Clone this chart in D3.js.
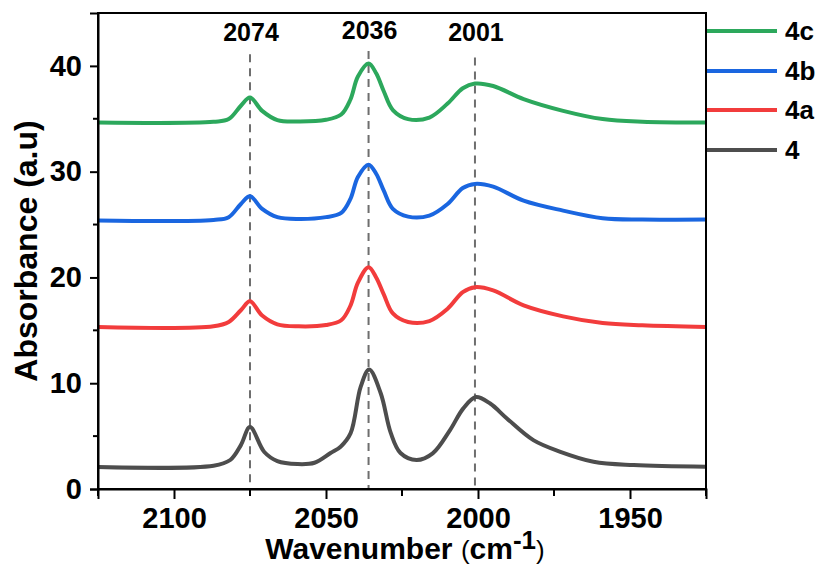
<!DOCTYPE html>
<html>
<head>
<meta charset="utf-8">
<script src="https://cdn.jsdelivr.net/npm/d3@7"></script>
<style>
  body { margin: 0; background: #fff; }
  text { font-family: "Liberation Sans", Arial, sans-serif; font-weight: bold; fill: #000; }
</style>
</head>
<body>
<div id="chart"></div>
<script>
// wavenumber grids (cm-1)
var wnABC = [2125, 2087, 2082, 2078, 2075, 2071, 2066, 2059, 2050, 2045, 2042, 2039.5, 2036, 2033.5, 2031, 2028, 2023, 2016, 2010, 2005, 2001, 1995, 1985, 1972, 1959, 1946, 1925];
var wn4 = [2125, 2087, 2081.5, 2078, 2075, 2070.3, 2066, 2059.4, 2053.8, 2048.5, 2045.2, 2041.9, 2038.6, 2035.8, 2032, 2028.7, 2025.5, 2020.2, 2014.9, 2009.2, 2004.9, 2000.7, 1996, 1990.5, 1981.8, 1972.9, 1962, 1948.8, 1925];

// absorbance values
var abs4c = [34.65, 34.72, 34.97, 36.23, 37.0, 35.75, 34.88, 34.75, 34.9, 35.4, 36.8, 39.0, 40.22, 39.3, 37.6, 35.82, 34.97, 35.12, 36.44, 37.89, 38.33, 38.1, 36.86, 35.75, 34.97, 34.72, 34.65];
var abs4b = [25.38, 25.44, 25.7, 26.95, 27.67, 26.48, 25.7, 25.53, 25.7, 26.1, 27.4, 29.5, 30.66, 29.8, 28.2, 26.48, 25.75, 25.85, 26.95, 28.46, 28.84, 28.58, 27.26, 26.32, 25.6, 25.47, 25.47];
var abs4a = [15.31, 15.38, 15.79, 16.9, 17.74, 16.4, 15.57, 15.38, 15.5, 15.95, 17.3, 19.5, 20.97, 20.0, 18.4, 16.6, 15.79, 15.88, 17.04, 18.62, 19.08, 18.77, 17.36, 16.32, 15.69, 15.47, 15.31];
var abs4 = [2.08, 2.2, 2.74, 4.15, 5.85, 3.5, 2.64, 2.36, 2.48, 3.4, 4.0, 5.28, 9.65, 11.29, 9.05, 5.3, 3.4, 2.74, 3.37, 5.57, 7.6, 8.7, 8.08, 6.67, 4.62, 3.52, 2.58, 2.26, 2.1];

var seriesNames = ["4c", "4b", "4a", "4"];
var seriesColors = ["#2ca85c", "#1a66e0", "#f23c3c", "#4d4d4d"];

var peakPos = [2075, 2036, 2001];
var peakLabels = ["2074", "2036", "2001"];

var xMajor = [2100, 2050, 2000, 1950];
var xMinor = [2125, 2075, 2025, 1975, 1925];
var yMajor = [0, 10, 20, 30, 40];
var yMinor = [5, 15, 25, 35];

var W = 821, H = 566;
var margin = {left: 98, top: 13, right: 115, bottom: 77};
var pw = W - margin.left - margin.right;
var ph = H - margin.top - margin.bottom;

var svg = d3.select("#chart").append("svg")
  .attr("width", W)
  .attr("height", H);

var x = d3.scaleLinear().domain([2125, 1925]).range([margin.left, margin.left + pw]);
var y = d3.scaleLinear().domain([0, 45]).range([margin.top + ph, margin.top]);

var series = [
  {name: seriesNames[0], color: seriesColors[0], wn: wnABC, v: abs4c},
  {name: seriesNames[1], color: seriesColors[1], wn: wnABC, v: abs4b},
  {name: seriesNames[2], color: seriesColors[2], wn: wnABC, v: abs4a},
  {name: seriesNames[3], color: seriesColors[3], wn: wn4, v: abs4}
];

// dashed peak markers
var markTop = [41.1, 41.4, 40.8];
svg.append("g").selectAll("line")
  .data(peakPos)
  .enter().append("line")
  .attr("x1", function(d) { return x(d); })
  .attr("x2", function(d) { return x(d); })
  .attr("y1", function(d, i) { return y(markTop[i]); })
  .attr("y2", y(0))
  .attr("stroke", "#6e6e6e")
  .attr("stroke-width", 2)
  .attr("stroke-dasharray", "8,6");

svg.append("g").selectAll("text")
  .data(peakLabels)
  .enter().append("text")
  .attr("x", function(d, i) { return x(peakPos[i]) + 1; })
  .attr("y", function(d, i) { return i == 1 ? 39 : 41; })
  .attr("text-anchor", "middle")
  .style("font-size", "25px")
  .text(function(d) { return d; });

// curves
var line = d3.line()
  .x(function(d) { return x(d[0]); })
  .y(function(d) { return y(d[1]); })
  .curve(d3.curveCatmullRom.alpha(0.5));

svg.append("g").selectAll("path")
  .data(series.slice().reverse())
  .enter().append("path")
  .attr("d", function(s) { return line(d3.zip(s.wn, s.v)); })
  .attr("fill", "none")
  .attr("stroke", function(s) { return s.color; })
  .attr("stroke-width", 4)
  .attr("stroke-linejoin", "round");

// frame
svg.append("rect")
  .attr("x", margin.left).attr("y", margin.top)
  .attr("width", pw).attr("height", ph)
  .attr("fill", "none").attr("stroke", "#000").attr("stroke-width", 2);

// x axis
var xAxis = svg.append("g").attr("transform", "translate(0," + (margin.top + ph) + ")");
xAxis.call(d3.axisBottom(x).tickValues(xMajor).tickSize(10).tickPadding(8).tickFormat(d3.format("d")));
xAxis.append("g").selectAll("line").data(xMinor).enter().append("line")
  .attr("x1", function(d) { return x(d); }).attr("x2", function(d) { return x(d); })
  .attr("y1", 0).attr("y2", 7).attr("stroke", "#000").attr("stroke-width", 2);

// y axis
var yAxis = svg.append("g").attr("transform", "translate(" + margin.left + ",0)");
yAxis.call(d3.axisLeft(y).tickValues(yMajor).tickSize(8).tickPadding(8));
yAxis.append("g").selectAll("line").data(yMinor).enter().append("line")
  .attr("x1", 0).attr("x2", -5)
  .attr("y1", function(d) { return y(d); }).attr("y2", function(d) { return y(d); })
  .attr("stroke", "#000").attr("stroke-width", 2);

[xAxis, yAxis].forEach(function(a) {
  a.select(".domain").attr("stroke-width", 2);
  a.selectAll(".tick line").attr("stroke-width", 2);
  a.selectAll(".tick text")
    .style("font-family", "'Liberation Sans', Arial, sans-serif")
    .style("font-weight", "bold")
    .style("font-size", "29px");
});

// axis titles
svg.append("text")
  .attr("transform", "translate(37,251) rotate(-90)")
  .attr("text-anchor", "middle")
  .style("font-size", "32px")
  .text("Absorbance (a.u)");

var xt = svg.append("text")
  .attr("x", 405)
  .attr("y", 559)
  .attr("text-anchor", "middle")
  .style("font-size", "30px");
xt.append("tspan").text("Wavenumber ");
xt.append("tspan").style("font-size", "26px").style("font-weight", "normal").text("(");
xt.append("tspan").text("cm");
xt.append("tspan").attr("dy", -10).style("font-size", "26px").text("-1");
xt.append("tspan").attr("dy", 10).style("font-size", "26px").style("font-weight", "normal").text(")");

// legend
var legY = [31, 71, 110, 150];
var leg = svg.append("g").selectAll("g")
  .data(series)
  .enter().append("g")
  .attr("transform", function(d, i) { return "translate(707," + legY[i] + ")"; });
leg.append("line")
  .attr("x1", 0).attr("x2", 70)
  .attr("stroke", function(d) { return d.color; })
  .attr("stroke-width", 4);
leg.append("text")
  .attr("x", 78)
  .attr("y", 9)
  .style("font-size", "26px")
  .text(function(d) { return d.name; });
</script>
</body>
</html>
